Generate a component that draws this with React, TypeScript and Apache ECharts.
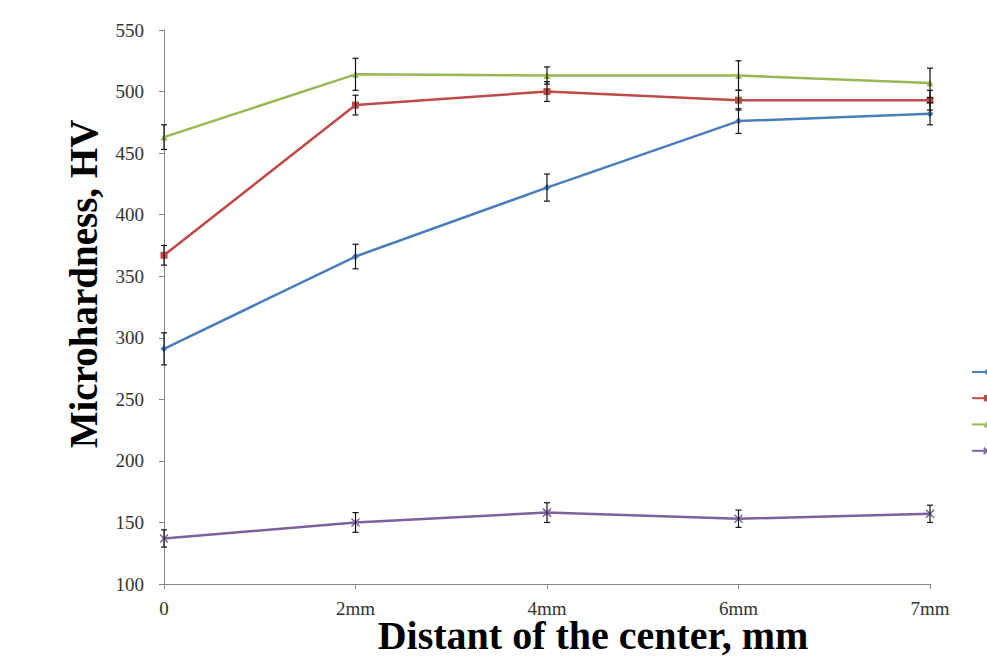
import React, { useEffect, useRef } from "react";
import * as echarts from "echarts";

// Distance from the weld centre and measured microhardness (HV) per sample
const categories = ["0", "2mm", "4mm", "6mm", "7mm"];
const seriesNames = ["Sample 1", "Sample 2", "Sample 3", "Sample 4"];
const blueValues = [291, 366, 422, 476, 482];
const redValues = [367, 489, 500, 493, 493];
const greenValues = [463, 514, 513, 513, 507];
const purpleValues = [137, 150, 158, 153, 157];
// Standard deviation for each point
const blueErrors = [13, 10, 11, 10, 9];
const redErrors = [8, 8, 8, 8, 8];
const greenErrors = [10, 13, 7, 12, 12];
const purpleErrors = [7, 8, 8, 7, 7];
const yTicks = { min: 100, max: 550, step: 50 };
const xTitle = "Distant of the center, mm";
const yTitle = "Microhardness, HV";

const colors = ["#4A7EBB", "#BE4B48", "#98B954", "#7D60A0"];
const symbols = ["diamond", "rect", "triangle", "path://M0,0L10,10M10,0L0,10"];

const serif = "Liberation Serif";

function errorData(values: number[], errors: number[]) {
  return values.map((v, i) => [i, v - errors[i], v + errors[i]]);
}

export default function App() {
  const ref = useRef<HTMLDivElement>(null);

  useEffect(() => {
    if (!ref.current) return;
    const chart = echarts.init(ref.current, undefined, { renderer: "svg" });
    const allValues = [blueValues, redValues, greenValues, purpleValues];
    const allErrors = [blueErrors, redErrors, greenErrors, purpleErrors];

    const lineSeries = allValues.map((vals, k) => ({
      name: seriesNames[k],
      type: "line",
      data: vals,
      symbol: symbols[k],
      symbolSize: k === 3 ? 8 : 7,
      showSymbol: true,
      lineStyle: { color: colors[k], width: 2.5 },
      itemStyle:
        k === 3
          ? { color: "transparent", borderColor: colors[k], borderWidth: 1.5 }
          : { color: colors[k] },
      emphasis: { disabled: true },
      z: 2,
    }));

    const errorSeries = allValues.map((vals, k) => ({
      name: seriesNames[k] + " error",
      type: "custom",
      data: errorData(vals, allErrors[k]),
      encode: { x: 0, y: [1, 2] },
      z: 3,
      renderItem: (params: any, api: any) => {
        const lo = api.coord([api.value(0), api.value(1)]);
        const hi = api.coord([api.value(0), api.value(2)]);
        const cap = 3;
        const style = { stroke: "#111", lineWidth: 1.2 };
        return {
          type: "group",
          children: [
            { type: "line", shape: { x1: lo[0], y1: lo[1], x2: hi[0], y2: hi[1] }, style },
            { type: "line", shape: { x1: lo[0] - cap, y1: lo[1], x2: lo[0] + cap, y2: lo[1] }, style },
            { type: "line", shape: { x1: hi[0] - cap, y1: hi[1], x2: hi[0] + cap, y2: hi[1] }, style },
          ],
        };
      },
    }));

    const titleStyle = {
      fontFamily: serif,
      fontWeight: "bold",
      fill: "#000",
      align: "center",
      verticalAlign: "middle",
    };

    chart.setOption({
      animation: false,
      backgroundColor: "#ffffff",
      grid: {
        left: 164,
        right: 57,
        top: 30,
        bottom: 72,
        containLabel: false,
        outerBoundsMode: "none",
      },
      legend: {
        left: 966,
        top: 363,
        orient: "vertical",
        itemGap: 19,
        itemWidth: 30,
        itemHeight: 8,
        formatter: () => "",
        data: seriesNames,
        textStyle: { fontSize: 1 },
      },
      graphic: [
        {
          type: "text",
          x: 83,
          y: 284,
          rotation: Math.PI / 2,
          style: { ...titleStyle, text: yTitle, fontSize: 39 },
        },
        {
          type: "text",
          x: 593,
          y: 635,
          style: { ...titleStyle, text: xTitle, fontSize: 40, lineHeight: 30 },
        },
      ],
      xAxis: {
        type: "category",
        data: categories,
        boundaryGap: false,
        axisLine: { lineStyle: { color: "#868686", width: 1 } },
        axisTick: { show: true, alignWithLabel: true, length: 5, lineStyle: { color: "#868686" } },
        axisLabel: { fontFamily: serif, fontSize: 19, color: "#333", margin: 15 },
        splitLine: { show: false },
      },
      yAxis: {
        type: "value",
        min: yTicks.min,
        max: yTicks.max,
        interval: yTicks.step,
        axisLine: { show: true, lineStyle: { color: "#868686", width: 1 } },
        axisTick: { show: true, length: 5, lineStyle: { color: "#868686" } },
        axisLabel: { fontFamily: serif, fontSize: 19, color: "#333", margin: 20 },
        splitLine: { show: false },
      },
      series: [...lineSeries, ...errorSeries],
    });

    return () => chart.dispose();
  }, []);

  return (
    <div
      ref={ref}
      style={{ position: "absolute", left: 0, top: 0, width: 987, height: 656, background: "#fff" }}
    />
  );
}
